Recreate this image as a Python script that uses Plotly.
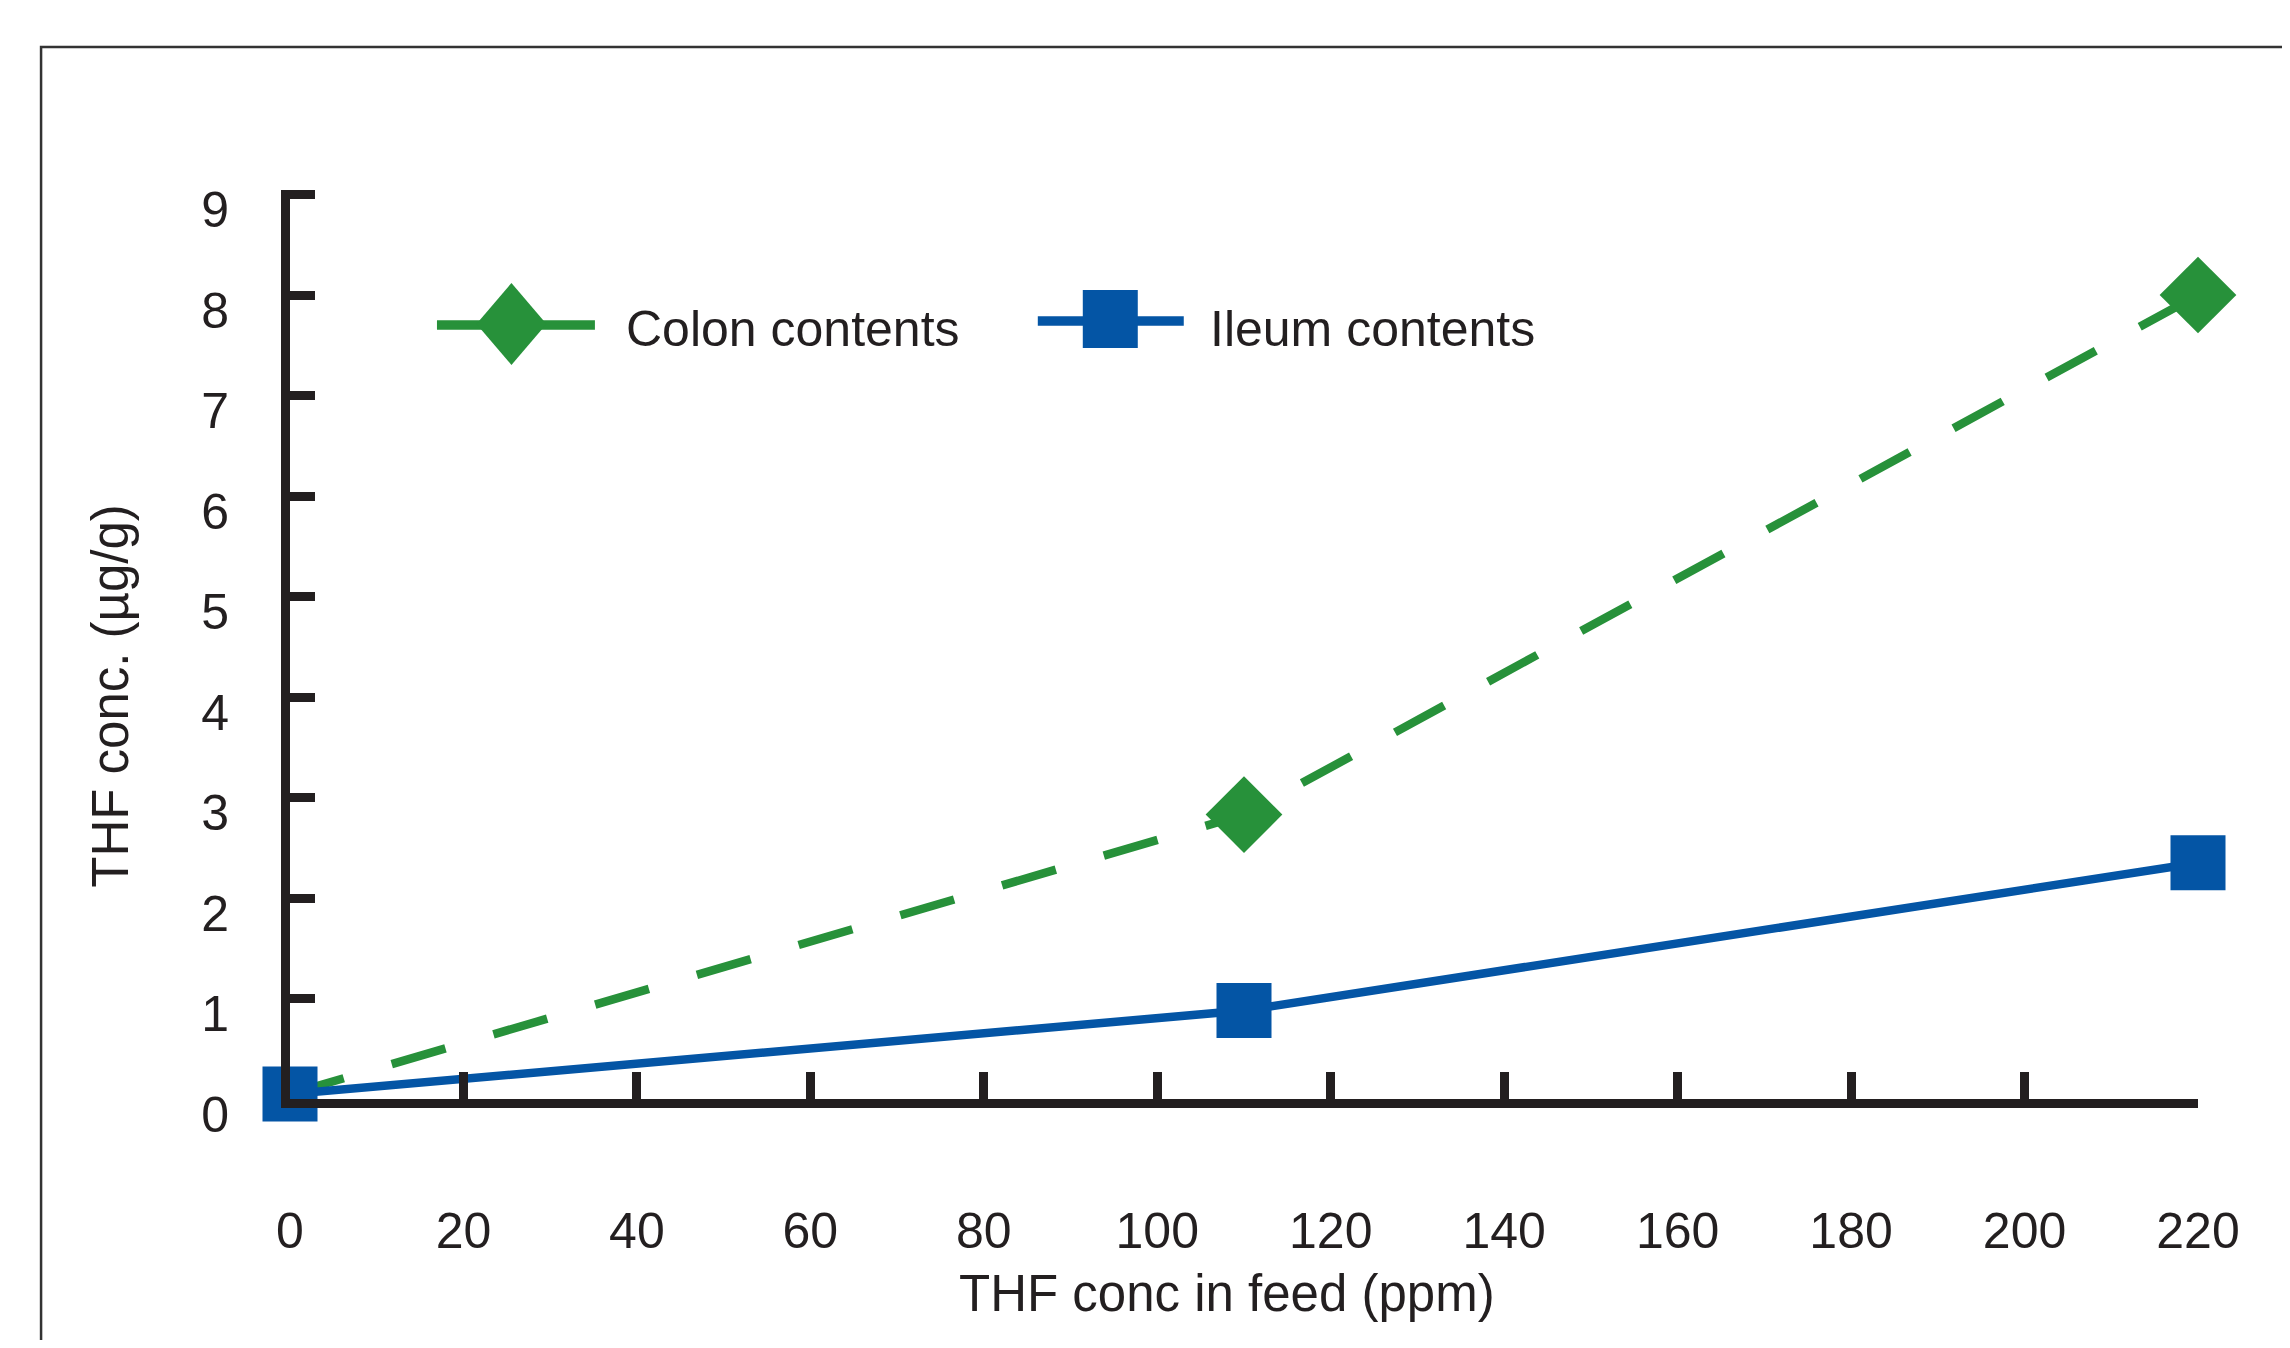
import plotly.graph_objects as go

# ---- data ----
feed_ppm = [0, 110, 220]
colon_thf = [0.05, 2.83, 8.0]
ileum_thf = [0.05, 0.88, 2.35]
series_names = ["Colon contents", "Ileum contents"]
x_tick_vals = [0, 20, 40, 60, 80, 100, 120, 140, 160, 180, 200, 220]
y_tick_vals = [0, 1, 2, 3, 4, 5, 6, 7, 8, 9]
x_title = "THF conc in feed (ppm)"
y_title = "THF conc. (µg/g)"

# ---- layout geometry (screen pixels; the page body adds an 8px offset) ----
OFF = 8
FW, FH = 2290 - 2 * OFF, 1348 - 2 * OFF
L, R, T, B = 290, 2198.5, 190, 1099.5
PW, PH = R - L, B - T


def px(x):
    return (x - L) / PW


def py(y):
    return (B - y) / PH


GREEN = "#27913A"
BLUE = "#0455A5"
INK = "#231F20"
FONT = "Liberation Sans, Arial, sans-serif"

fig = go.Figure()
fig.add_trace(go.Scatter(
    x=feed_ppm, y=colon_thf, mode="lines+markers", name=series_names[0],
    line=dict(color=GREEN, width=8.5, dash="56px,50px"),
    marker=dict(symbol="diamond", size=[0, 59, 59], opacity=1, color=GREEN,
                line=dict(width=0)),
    cliponaxis=False, showlegend=False))
fig.add_trace(go.Scatter(
    x=feed_ppm, y=ileum_thf, mode="lines+markers", name=series_names[1],
    line=dict(color=BLUE, width=8.5),
    marker=dict(symbol="square", size=55, opacity=1, color=BLUE, line=dict(width=0)),
    cliponaxis=False, showlegend=False))

shapes = []
# outer frame (runs off the right and bottom edges of the picture)
shapes.append(dict(type="rect", xref="paper", yref="paper",
                   x0=px(41), x1=px(2330), y0=py(1400), y1=py(47),
                   line=dict(color="#333333", width=2.5), fillcolor="rgba(0,0,0,0)",
                   layer="below"))
# legend swatches
shapes.append(dict(type="line", xref="paper", yref="paper",
                   x0=px(437), x1=px(595), y0=py(325), y1=py(325),
                   line=dict(color=GREEN, width=9.5)))
cx, cy, hw, hh = 511.5, 324, 35, 41
shapes.append(dict(type="path", xref="paper", yref="paper",
                   path=f"M{px(cx - hw)},{py(cy)} L{px(cx)},{py(cy - hh)} L{px(cx + hw)},{py(cy)} L{px(cx)},{py(cy + hh)} Z",
                   fillcolor=GREEN, line=dict(width=0)))
shapes.append(dict(type="line", xref="paper", yref="paper",
                   x0=px(1038), x1=px(1184), y0=py(321), y1=py(321),
                   line=dict(color=BLUE, width=9.5)))
shapes.append(dict(type="rect", xref="paper", yref="paper",
                   x0=px(1083), x1=px(1138), y0=py(348), y1=py(290),
                   fillcolor=BLUE, line=dict(width=0)))

annotations = [
    dict(text=series_names[0], xref="paper", yref="paper", x=px(624), y=py(329),
         xanchor="left", yanchor="middle", showarrow=False,
         font=dict(family=FONT, size=50, color=INK)),
    dict(text=series_names[1], xref="paper", yref="paper", x=px(1208), y=py(329),
         xanchor="left", yanchor="middle", showarrow=False,
         font=dict(family=FONT, size=50, color=INK)),
    dict(text=x_title, xref="paper", yref="paper", x=px(1227), y=py(1294),
         xanchor="center", yanchor="middle", showarrow=False,
         font=dict(family=FONT, size=51, color=INK)),
    dict(text=y_title, xref="paper", yref="paper", x=px(111), y=py(696),
         xanchor="center", yanchor="middle", showarrow=False, textangle=-90,
         font=dict(family=FONT, size=51, color=INK)),
]

fig.update_layout(
    width=FW, height=FH,
    margin=dict(l=L - OFF, r=FW - (R - OFF), t=T - OFF, b=FH - (B - OFF), autoexpand=False),
    paper_bgcolor="white", plot_bgcolor="white",
    font=dict(family=FONT, color=INK),
    shapes=shapes, annotations=annotations,
    showlegend=False,
)
fig.update_xaxes(
    range=[0, 220], tickmode="array", tickvals=x_tick_vals,
    ticktext=[str(v) for v in x_tick_vals],
    showgrid=False, zeroline=False,
    showline=True, linecolor=INK, linewidth=9,
    ticks="inside", ticklen=27, tickwidth=9, tickcolor=INK,
    tickfont=dict(family=FONT, size=50, color=INK),
    ticklabelstandoff=80,
    automargin=False,
)
fig.update_yaxes(
    range=[0, 9.045], tickmode="array", tickvals=y_tick_vals,
    ticktext=[str(v) for v in y_tick_vals],
    showgrid=False, zeroline=False,
    showline=True, linecolor=INK, linewidth=9,
    ticks="inside", ticklen=25, tickwidth=9, tickcolor=INK,
    tickfont=dict(family=FONT, size=50, color=INK),
    ticklabelstandoff=42, ticklabelshift=15,
    automargin=False,
)

fig.write_html("out.html")
